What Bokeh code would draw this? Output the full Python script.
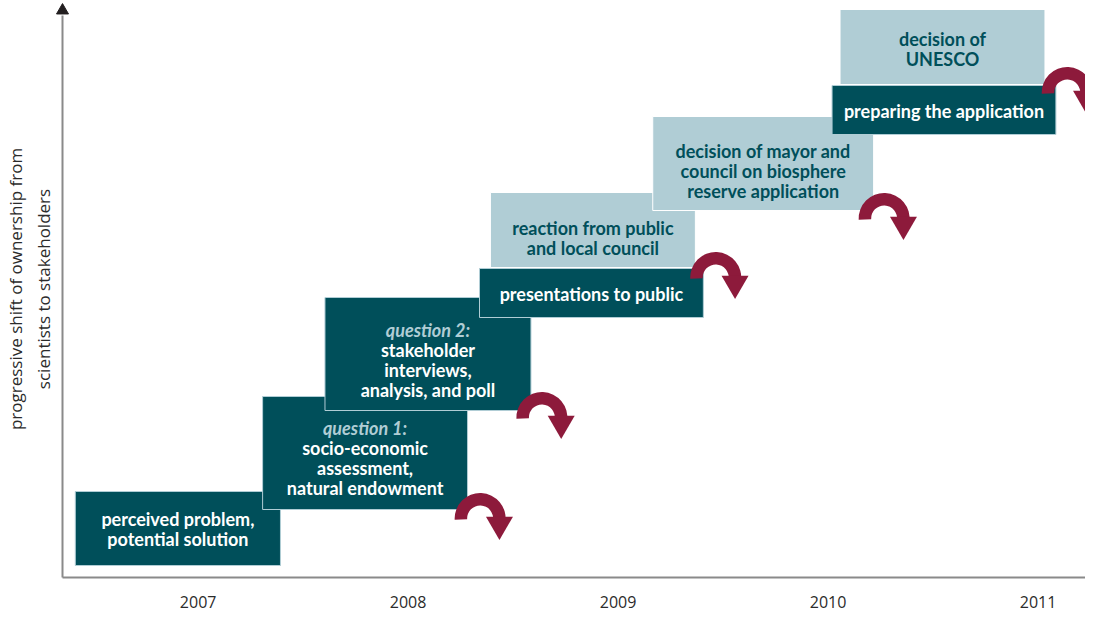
from bokeh.plotting import figure
from bokeh.embed import file_html
from bokeh.resources import INLINE
from bokeh.core.properties import value
from bokeh.models import Range1d, FixedTicker, ColumnDataSource

DARK = "#004f5a"
LIGHT = "#b0cdd5"
ARROW = "#8d1a3b"
AXIS = "#8a8a8a"

years = [2007, 2008, 2009, 2010, 2011]

# boxes, in drawing order
box_left = [2006.415, 2007.307, 2007.604, 2008.392, 2008.340, 2009.165, 2010.057, 2010.019]
box_right = [2007.392, 2008.283, 2008.585, 2009.368, 2009.406, 2010.217, 2011.033, 2011.085]
box_bottom = [12, 68, 167, 310, 260, 367, 493, 443]
box_top = [86, 181, 280, 385, 309, 461, 568, 492]
box_dark = [True, True, True, False, True, False, False, True]

# text lines: text, box index, height, kind
line_text = ["perceived problem,", "potential solution",
             "question 1:", "socio-economic", "assessment,", "natural endowment",
             "question 2:", "stakeholder", "interviews,", "analysis, and poll",
             "reaction from public", "and local council",
             "presentations to public",
             "decision of mayor and", "council on biosphere", "reserve application",
             "decision of", "UNESCO",
             "preparing the application"]
line_box = [0, 0, 1, 1, 1, 1, 2, 2, 2, 2, 3, 3, 4, 5, 5, 5, 6, 6, 7]
line_value = [59, 39, 150, 130, 110, 90, 248, 228, 208, 188, 350, 330, 284, 427, 407, 387, 539, 519, 467]

arrow_x = [2008.343, 2008.637, 2009.465, 2010.267, 2011.139]
arrow_y = [59, 160, 300, 359, 485]
head_x = [2008.435, 2008.729, 2009.557, 2010.359, 2011.231]
head_y = [53, 154, 294, 353, 479]

p = figure(width=1085, height=611, output_backend="svg", toolbar_location=None,
           x_range=Range1d(2006.354, 2011.226), y_range=Range1d(0, 577),
           min_border_left=52, min_border_right=0, min_border_top=0, min_border_bottom=34,
           outline_line_color=None, background_fill_color=None, border_fill_color=None)
p.grid.visible = False

ax = p.xaxis[0]
ax.ticker = FixedTicker(ticks=years)
ax.major_tick_line_color = None
ax.minor_tick_line_color = None
ax.axis_line_color = AXIS
ax.axis_line_width = 2
ax.major_label_text_font = "Open Sans"
ax.major_label_text_font_size = "16px"
ax.major_label_text_color = "#2b2b2b"
ax.major_label_standoff = 12
ax.formatter.use_scientific = False
from bokeh.models import CustomJSTickFormatter
ax.formatter = CustomJSTickFormatter(code="return String(tick)")

ay = p.yaxis[0]
ay.ticker = FixedTicker(ticks=[])
ay.major_tick_line_color = None
ay.minor_tick_line_color = None
ay.major_label_text_color = None
ay.axis_line_color = AXIS
ay.axis_line_width = 2
ay.bounds = (0, 562)
ay.axis_label = "progressive shift of ownership from\nscientists to stakeholders"
ay.axis_label_text_font = "Open Sans"
ay.axis_label_text_font_style = "normal"
ay.axis_label_text_font_size = "17px"
ay.axis_label_text_color = "#2b2b2b"
ay.axis_label_standoff = 8

# axis arrow head
p.scatter([2006.354], [567], marker="triangle", size=12, color="#231f20", level="overlay")

src = ColumnDataSource(dict(
    left=box_left, right=box_right, bottom=box_bottom, top=box_top,
    fill=[DARK if d else LIGHT for d in box_dark],
    edge=[LIGHT if d else "#ffffff" for d in box_dark]))
p.quad(left="left", right="right", bottom="bottom", top="top", fill_color="fill",
       line_color="edge", line_width=1, source=src)

tx = [(box_left[b] + box_right[b]) / 2 for b in line_box]
tc = []
ts = []
for t, b in zip(line_text, line_box):
    if t.startswith("question"):
        tc.append(LIGHT)
        ts.append("bold italic")
    else:
        tc.append("#ffffff" if box_dark[b] else DARK)
        ts.append("bold")
p.text(x=tx, y=line_value, text=line_text, text_color=tc, text_font=value("Lato"),
       text_font_size="18px", text_font_style=ts, text_align="center", text_baseline="middle")

p.annular_wedge(x=arrow_x, y=arrow_y, inner_radius=13, outer_radius=25.5,
                inner_radius_units="screen", outer_radius_units="screen",
                start_angle=-8, end_angle=183, start_angle_units="deg", end_angle_units="deg",
                color=ARROW, line_color=None)
p.scatter(x=head_x, y=head_y, marker="inverted_triangle", size=27, color=ARROW, line_color=None)

open("out.html", "w").write(file_html(p, INLINE))
